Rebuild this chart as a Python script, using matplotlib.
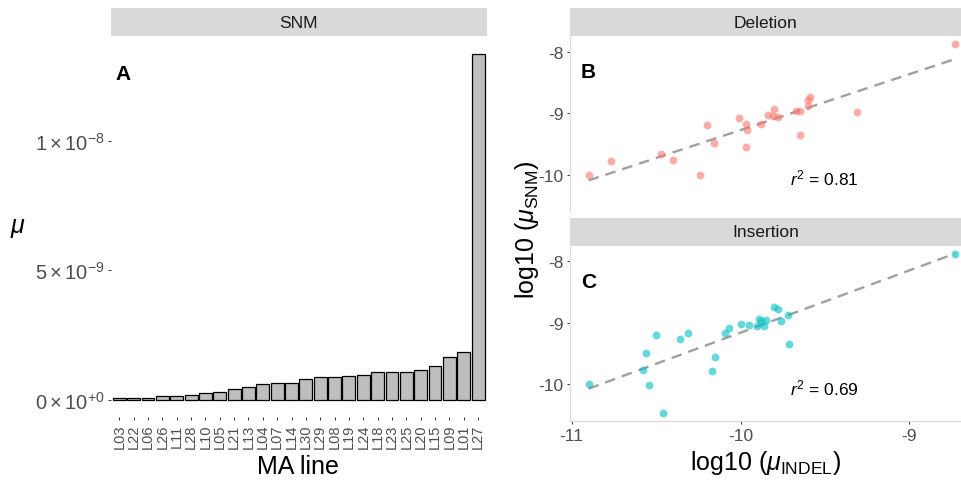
import matplotlib

matplotlib.use("Agg")
import matplotlib.pyplot as plt
import numpy as np

plt.rcParams["font.family"] = ["Liberation Sans", "DejaVu Sans"]
plt.rcParams["mathtext.fontset"] = "custom"
plt.rcParams["mathtext.rm"] = "Liberation Sans"
plt.rcParams["mathtext.it"] = "Liberation Sans:italic"
plt.rcParams["mathtext.bf"] = "Liberation Sans:bold"

# --- panel A: SNM rate per MA line ---
ma_lines = ["L03", "L22", "L06", "L26", "L11", "L28", "L10", "L05", "L21", "L13",
            "L04", "L07", "L14", "L30", "L29", "L08", "L19", "L24", "L18", "L23",
            "L25", "L20", "L15", "L09", "L01", "L27"]
snm_rate = np.array([0.05, 0.07, 0.07, 0.13, 0.13, 0.18, 0.24, 0.31, 0.42, 0.50,
                     0.59, 0.66, 0.66, 0.80, 0.86, 0.88, 0.90, 0.94, 1.07, 1.07,
                     1.08, 1.15, 1.30, 1.65, 1.84, 13.36]) * 1e-9
snm_ticks = [0, 5e-9, 1e-8]
snm_ticklabels = [r"$0\times10^{+0}$", r"$5\times10^{-9}$", r"$1\times10^{-8}$"]

# --- panel B: deletion vs SNM (log10) ---
del_x = [-10.90, -10.77, -10.47, -10.40, -10.24, -10.20, -10.16, -10.01, -9.97, -9.96,
         -9.97, -9.88, -9.84, -9.80, -9.81, -9.78, -9.67, -9.65, -9.65, -9.60,
         -9.59, -9.60, -9.31, -8.73]
del_y = [-10.00, -9.78, -9.66, -9.77, -10.00, -9.20, -9.49, -9.08, -9.17, -9.27,
         -9.55, -9.17, -9.03, -8.94, -9.04, -9.06, -8.97, -8.97, -9.35, -8.78,
         -8.74, -8.88, -8.98, -7.88]

# --- panel C: insertion vs SNM (log10) ---
ins_x = [-10.90, -10.58, -10.56, -10.54, -10.50, -10.46, -10.36, -10.31, -10.17, -10.15,
         -10.09, -10.07, -10.00, -9.95, -9.90, -9.89, -9.88, -9.86, -9.85, -9.80,
         -9.78, -9.76, -9.72, -9.71, -8.73]
ins_y = [-10.00, -9.77, -9.49, -10.01, -9.20, -10.47, -9.27, -9.17, -9.78, -9.55,
         -9.17, -9.08, -9.02, -9.03, -9.05, -8.94, -8.97, -9.05, -8.96, -8.74,
         -8.78, -8.97, -8.88, -9.34, -7.88]

facets = ["Deletion", "Insertion"]
facet_colors = ["#F8766D", "#00BFC4"]
r2_labels = ["0.81", "0.69"]
log_ticks_x = [-11, -10, -9]
log_ticks_y = [-10, -9, -8]

W, H = 961, 481
TICK_COL = "#4D4D4D"
STRIP_BG = "#D9D9D9"


def px_axes(fig, x0, y0, x1, y1):
    # pixel box (top-left origin) -> figure axes
    return fig.add_axes([x0 / W, 1 - y1 / H, (x1 - x0) / W, (y1 - y0) / H])


def strip(fig, x0, y0, x1, y1, label):
    ax = px_axes(fig, x0, y0, x1, y1)
    ax.set_facecolor(STRIP_BG)
    ax.set_xticks([])
    ax.set_yticks([])
    for s in ax.spines.values():
        s.set_visible(False)
    ax.text(0.5, 0.5, label, ha="center", va="center", fontsize=12.5,
            color="#1A1A1A", transform=ax.transAxes)


def style_ticks(ax):
    ax.tick_params(length=2.5, width=0.7, color="#333333", labelcolor=TICK_COL,
                   pad=2, labelsize=12.5)


fig = plt.figure(figsize=(W / 100, H / 100), dpi=100)

# panel A
axA = px_axes(fig, 110.7, 37.3, 486.7, 418)
pos = np.arange(1, len(ma_lines) + 1)
axA.bar(pos, snm_rate, width=0.9, color="#BEBEBE", edgecolor="black", linewidth=0.9)
axA.set_xlim(0.4, len(ma_lines) + 0.6)
top = snm_rate.max()
axA.set_ylim(-0.05 * top, 1.05 * top)
axA.set_yticks(snm_ticks)
axA.set_yticklabels(snm_ticklabels)
axA.set_xticks(pos)
axA.set_xticklabels(ma_lines, rotation=90)
for s in axA.spines.values():
    s.set_visible(False)
style_ticks(axA)
axA.tick_params(axis="x", labelsize=10.5)
axA.tick_params(axis="y", labelsize=14.5)
strip(fig, 110.7, 9, 486.7, 37.3, "SNM")
fig.text(298 / W, 1 - 467 / H, "MA line", ha="center", va="center", fontsize=18)
fig.text(18 / W, 1 - 228 / H, r"$\mu$", ha="center", va="center", fontsize=18)
fig.text(115 / W, 1 - 65 / H, "A", ha="left", va="top", fontsize=15, fontweight="bold")

# panels B and C
boxes = [(37.3, 212.5), (246.7, 422.3)]
strips = [(9, 37.3), (219.3, 246.7)]
xs = [del_x, ins_x]
ys = [del_y, ins_y]
letters = ["B", "C"]
all_y = np.array(del_y + ins_y)
yr = all_y.max() - all_y.min()
ylim = (all_y.min() - 0.05 * yr, all_y.max() + 0.05 * yr)

for i in range(2):
    y0, y1 = boxes[i]
    ax = px_axes(fig, 570, y0, 961, y1)
    x = np.array(xs[i])
    y = np.array(ys[i])
    ax.scatter(x, y, s=32, color=facet_colors[i], alpha=0.6, linewidths=0, zorder=3)
    k, b = np.polyfit(x, y, 1)
    xx = np.array([x.min(), x.max()])
    ax.plot(xx, k * xx + b, color="#A0A0A0", lw=1.7, linestyle=(0, (4.5, 3)), zorder=2)
    ax.text(-9.505, -10.05, r"$r^2$ = " + r2_labels[i], ha="center", va="center",
            fontsize=12.5, color="black")
    ax.set_xlim(-11.01, -8.694)
    ax.set_ylim(*ylim)
    ax.set_xticks(log_ticks_x)
    ax.set_yticks(log_ticks_y)
    ax.set_xticklabels([str(t) for t in log_ticks_x])
    ax.set_yticklabels([str(t) for t in log_ticks_y])
    for name, s in ax.spines.items():
        s.set_visible(name in ("left", "bottom"))
        s.set_color("#DDDDDD")
        s.set_linewidth(1.0)
    style_ticks(ax)
    if i == 0:
        ax.spines["bottom"].set_visible(False)
        ax.tick_params(axis="x", bottom=False, labelbottom=False)
    strip(fig, 570, strips[i][0], 961, strips[i][1], facets[i])
    fig.text(580.7 / W, 1 - (y0 + 26) / H, letters[i], ha="left", va="top",
             fontsize=15, fontweight="bold")

fig.text(766 / W, 1 - 463 / H, r"log10 ($\mu_{\mathrm{INDEL}}$)", ha="center",
         va="center", fontsize=18)
fig.text(527 / W, 1 - 230 / H, r"log10 ($\mu_{\mathrm{SNM}}$)", ha="center",
         va="center", fontsize=18, rotation=90)

fig.savefig("out.png", dpi=100)
